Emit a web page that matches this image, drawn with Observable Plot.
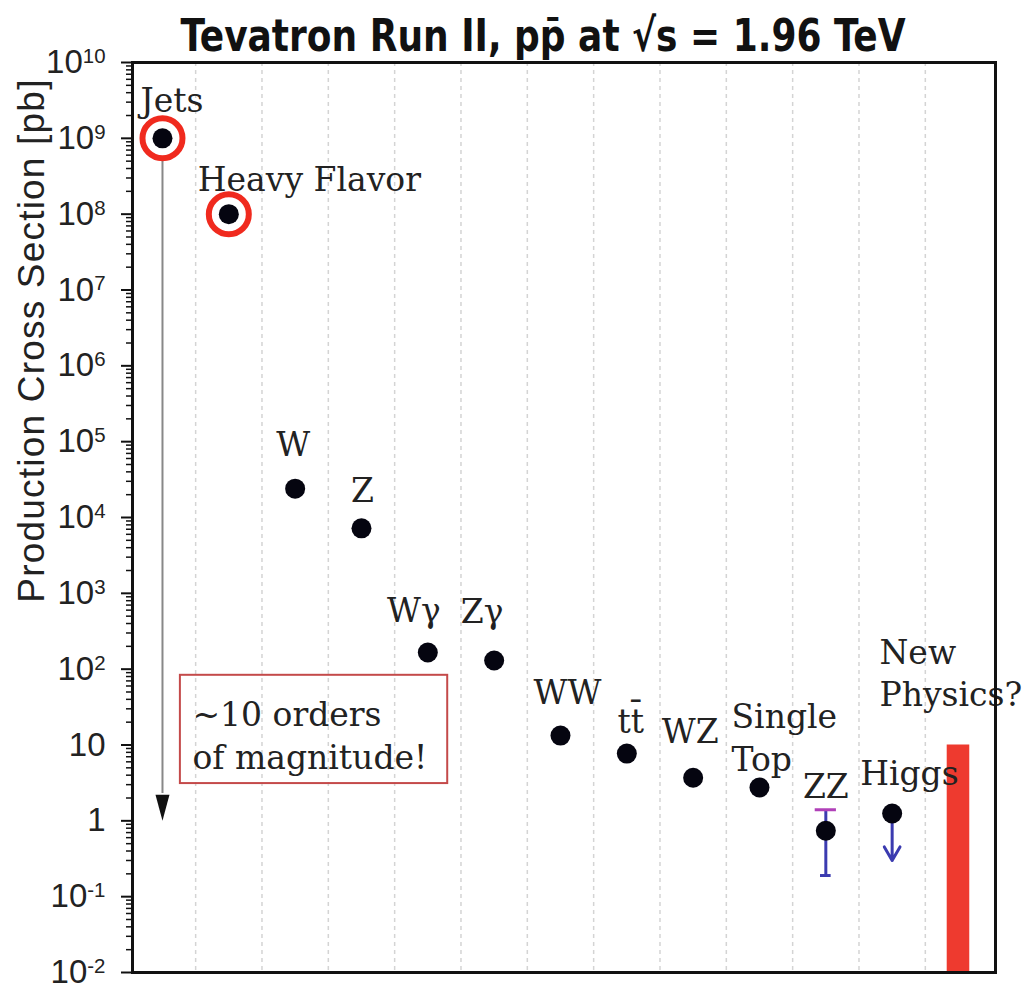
<!DOCTYPE html>
<html><head><meta charset="utf-8">
<script src="https://cdn.jsdelivr.net/npm/d3@7"></script>
<script src="https://cdn.jsdelivr.net/npm/@observablehq/plot@0.6"></script>
<style>body{margin:0;background:#fff} svg{display:block}</style>
</head><body><div id="chart"></div>
<script>
// ---- data ----
const title = "Tevatron Run II, pp\u0304 at \u221As = 1.96 TeV";
const yLabel = "Production Cross Section [pb]";
const categories = ["Jets", "Heavy Flavor", "W", "Z", "W\u03B3", "Z\u03B3", "WW", "tt\u0304", "WZ", "Single\nTop", "ZZ", "Higgs"];
const crossSections = [1e9, 1e8, 2.4e4, 7.2e3, 166, 130, 13.3, 7.7, 3.7, 2.75, 0.74, 1.25];
const zzError = [0.19, 1.4];          // ZZ error band (pb)
const higgsLimit = [1.25, 0.3];       // Higgs upper-limit arrow (pb)
const newPhysicsLabel = "New\nPhysics?";
const newPhysicsValue = 10;           // top of the red bar (pb)
const spanArrow = [1e9, 1];           // "~10 orders of magnitude" arrow (pb)
const spanText = "~10 orders\nof magnitude!";
const yTickExponents = [-2, -1, 0, 1, 2, 3, 4, 5, 6, 7, 8, 9, 10];

// ---- derived tables ----
const points = categories.map((name, i) => ({name, i, value: crossSections[i]}));
const gridPositions = d3.range(0, categories.length).map(i => i + 0.5);
const majorTicks = yTickExponents.map(e => Math.pow(10, e));
const minorTicks = [];
for (const e of yTickExponents.slice(0, -1)) for (let k = 2; k <= 9; k++) minorTicks.push(k * Math.pow(10, e));
const barIndex = categories.length;

const serif = "'DejaVu Serif', 'Liberation Serif', serif";
const sans = "'Liberation Sans', Arial, sans-serif";
const narrow = "'DejaVu Sans', 'Liberation Sans', sans-serif";

// label offsets (pixels, relative to each point)
const labelStyle = [
  {dx: -22, dy: -26, a: "start"},
  {dx: -31, dy: -23, a: "start"},
  {dx: -2, dy: -33, a: "middle"},
  {dx: 1, dy: -26, a: "middle"},
  {dx: -14, dy: -30, a: "middle"},
  {dx: -12, dy: -38, a: "middle"},
  {dx: 7, dy: -32, a: "middle"},
  {dx: 4, dy: -21, a: "middle"},
  {dx: -3, dy: -35, a: "middle"},
  {dx: -28, dy: -17, a: "start"},
  {dx: 0, dy: -33, a: "middle"},
  {dx: -32, dy: -28, a: "start"}
];

const downTriangle = {draw(ctx) { ctx.moveTo(-7, -26); ctx.lineTo(7, -26); ctx.lineTo(0, 0); ctx.closePath(); }};

const labelMarks = points.map((p, k) => Plot.text([p], {
  x: "i", y: "value", text: "name", dx: labelStyle[k].dx, dy: labelStyle[k].dy,
  textAnchor: labelStyle[k].a, lineAnchor: "bottom", lineHeight: 1.3,
  fontFamily: serif, fontSize: 33, fill: "#222"
}));

const chart = Plot.plot({
  width: 1031, height: 992,
  marginLeft: 132, marginRight: 36, marginTop: 62, marginBottom: 20,
  x: {type: "linear", domain: [-0.452, 12.558], axis: null},
  y: {type: "log", domain: [1e-2, 1e10], axis: null},
  style: {background: "#fff"},
  marks: [
    Plot.ruleX(gridPositions, {stroke: "#d4d4d4", strokeWidth: 1.5, strokeDasharray: "4,4"}),
    // minor & major y ticks
    Plot.axisY(minorTicks, {label: null, tickSize: 6, tickFormat: () => "", stroke: "#111", strokeWidth: 1.5}),
    Plot.axisY(majorTicks, {label: null, tickSize: 11, tickPadding: 16, fontSize: 33, fontFamily: sans, fill: "#222", stroke: "#111", strokeWidth: 2,
      tickFormat: v => { const e = Math.round(Math.log10(v)); return e === 0 ? "1" : e === 1 ? "10" : "10^" + e; }}),
    // ~10 orders arrow
    Plot.ruleX([0], {y1: spanArrow[0], y2: spanArrow[1] * 2.3, stroke: "#888", strokeWidth: 2}),
    Plot.dot([0], {x: d => d, y: () => spanArrow[1], symbol: downTriangle, fill: "#111", stroke: "none"}),
    // highlight rings
    Plot.dot(points.slice(0, 2), {x: "i", y: "value", r: 20, stroke: "#f02a1e", strokeWidth: 6, fill: "#fff"}),
    // red New Physics bar
    Plot.rect([newPhysicsValue], {x1: () => barIndex - 0.17, x2: () => barIndex + 0.17, y1: () => 1e-2, y2: d => d, fill: "#ee3a2f"}),
    Plot.text([newPhysicsLabel], {x: () => barIndex, y: () => newPhysicsValue, text: d => d, dx: -79, dy: -39,
      textAnchor: "start", lineAnchor: "bottom", lineHeight: 1.28, fontFamily: serif, fontSize: 33, fill: "#222"}),
    // ZZ error bar
    Plot.ruleX([10], {x: d => d, y1: () => zzError[0], y2: () => zzError[1], stroke: "#3b3bb0", strokeWidth: 3}),
    Plot.ruleY([zzError[1]], {x1: () => 10 - 0.16, x2: () => 10 + 0.16, stroke: "#b040b8", strokeWidth: 3}),
    Plot.ruleY([zzError[0]], {x1: () => 10 - 0.08, x2: () => 10 + 0.08, stroke: "#3b3bb0", strokeWidth: 3}),
    // Higgs limit arrow
    Plot.arrow([higgsLimit], {x1: () => 11, x2: () => 11, y1: d => d[0], y2: d => d[1], stroke: "#3b3bb0", strokeWidth: 3, headLength: 14, bend: 0}),
    // data points
    Plot.dot(points, {x: "i", y: "value", r: 10, fill: "#050510", stroke: "none"}),
    ...labelMarks,
    // annotation box
    Plot.rect([spanText], {x1: () => 0.27, x2: () => 4.3, y1: () => 3.1, y2: () => 83, fill: "none", stroke: "#c44a4a", strokeWidth: 2}),
    Plot.text([spanText], {x: () => 0.27, y: () => 83, text: d => d, dx: 12, dy: 20, textAnchor: "start", lineAnchor: "top",
      lineHeight: 1.31, fontFamily: serif, fontSize: 33, fill: "#222"}),
    // frame
    Plot.frame({stroke: "#111", strokeWidth: 3}),
    // title and y label
    Plot.text([title], {frameAnchor: "top", text: d => d, textAnchor: "middle", dx: -21, dy: -12, lineAnchor: "bottom",
      fontSize: 45, fontWeight: "bold", fontFamily: narrow, fill: "#111"}),
    Plot.text([yLabel], {frameAnchor: "left", text: d => d, textAnchor: "middle", lineAnchor: "middle", rotate: -90, dx: -100, dy: -177,
      fontSize: 37, fontFamily: sans, fill: "#222"})
  ]
});

// superscript exponents on tick labels
d3.select(chart).selectAll('g[aria-label="y-axis tick label"] text').each(function() {
  const m = this.textContent.match(/^10\^(-?\d+)$/);
  if (m) {
    this.textContent = "10";
    d3.select(this).append("tspan").attr("dy", "-0.5em").attr("font-size", "0.62em").text(m[1]);
  }
});
// condensed title, spaced y label
d3.select(chart).selectAll("text").filter(function() { return this.textContent === title; })
  .style("font-stretch", "condensed").attr("textLength", 725).attr("lengthAdjust", "spacingAndGlyphs");
d3.select(chart).selectAll("text").filter(function() { return this.textContent === yLabel; })
  .style("letter-spacing", "1.2px");

document.getElementById("chart").appendChild(chart);
</script>
</body></html>
